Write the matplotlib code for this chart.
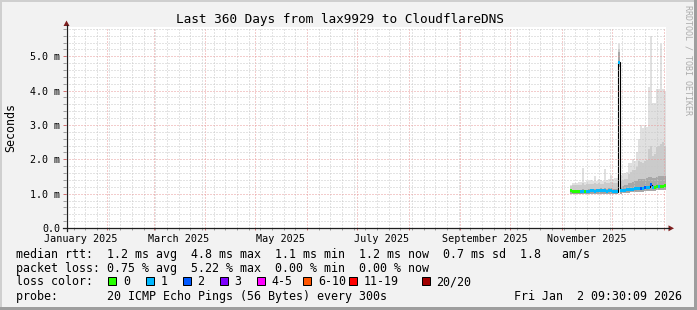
import matplotlib
matplotlib.use('Agg')
import matplotlib.pyplot as plt
import matplotlib.dates as mdates
from matplotlib.patches import Rectangle, Polygon
from matplotlib.ticker import FixedLocator, MultipleLocator
from matplotlib.transforms import ScaledTranslation
import numpy as np
import pandas as pd

plt.rcParams['font.family'] = ['DejaVu Sans Mono']

W, H, DPI = 697, 310, 100

# ---------------- text / categories ----------------
title = "Last 360 Days from lax9929 to CloudflareDNS"
y_label = "Seconds"
watermark = "RRDTOOL / TOBI OETIKER"
start_time = "2025-01-07 09:30:09"
end_time = "2026-01-02 09:30:09"
data_start = "2025-11-05 19:06:09"
step_minutes = 1728          # one column = 1.2 days

ytick_values = [0, 1, 2, 3, 4, 5]
ytick_labels = ["0.0", "1.0 m", "2.0 m", "3.0 m", "4.0 m", "5.0 m"]
xlabel_dates = ["2025-01-16", "2025-03-16", "2025-05-16", "2025-07-16", "2025-09-16", "2025-11-16"]
xlabel_texts = ["January 2025", "March 2025", "May 2025", "July 2025", "September 2025", "November 2025"]

legend_median = "median rtt:  1.2 ms avg  4.8 ms max  1.1 ms min  1.2 ms now  0.7 ms sd  1.8   am/s"
legend_loss = "packet loss: 0.75 % avg  5.22 % max  0.00 % min  0.00 % now"
legend_color = "loss color:"
legend_probe = "probe:       20 ICMP Echo Pings (56 Bytes) every 300s"
legend_date = "Fri Jan  2 09:30:09 2026"

loss_labels = ["0", "1", "2", "3", "4-5", "6-10", "11-19", "20/20"]
loss_colors = ["#26ff00", "#00b8ff", "#0059ff", "#7e00ff", "#ff00ff", "#ff5500", "#ff0000", "#a10000"]
loss_upper = [0, 1, 2, 3, 5, 10, 19, 20]

# ---------------- data (ms) ----------------
median = [1.08, 1.06, 1.05, 1.05, 1.06, 1.06, 1.07, 1.07, 1.06, 1.07, 1.08, 1.08,
          1.07, 1.08, 1.08, 1.09, 1.08, 1.08, 1.07, 1.08, 1.08, 1.07, 1.06, 1.06,
          4.82, 1.08, 1.10, 1.10, 1.11, 1.12, 1.13, 1.13, 1.14, 1.15, 1.15, 1.16,
          1.16, 1.17, 1.17, 1.18, 1.26, 1.19, 1.19, 1.20, 1.20, 1.21, 1.22, 1.23]
loss = [0, 0, 0, 0, 0, 1, 1, 0, 1, 1, 1, 1,
        1, 1, 1, 1, 1, 1, 1, 1, 1, 1, 1, 1,
        1, 1, 1, 1, 1, 1, 1, 1, 1, 1, 1, 2,
        1, 2, 1, 1, 2, 1, 0, 0, 1, 0, 0, 0]
smoke_lo = [0.99, 0.98, 0.98, 0.98, 0.98, 0.99, 0.99, 0.99, 0.98, 0.99, 0.99, 0.99,
            0.99, 0.99, 0.99, 1.00, 0.99, 0.99, 0.99, 0.99, 0.99, 0.99, 0.98, 0.98,
            4.70, 1.00, 1.01, 1.01, 1.02, 1.03, 1.04, 1.04, 1.05, 1.05, 1.06, 1.06,
            1.06, 1.07, 1.07, 1.08, 1.09, 1.09, 1.09, 1.10, 1.10, 1.11, 1.12, 1.12]
smoke_q1 = [1.12, 1.11, 1.10, 1.11, 1.11, 1.12, 1.13, 1.12, 1.12, 1.13, 1.14, 1.14,
            1.13, 1.14, 1.14, 1.15, 1.14, 1.15, 1.14, 1.15, 1.15, 1.14, 1.13, 1.13,
            5.12, 1.20, 1.22, 1.24, 1.26, 1.30, 1.32, 1.34, 1.36, 1.38, 1.42, 1.43,
            1.44, 1.44, 1.46, 1.48, 1.48, 1.46, 1.46, 1.48, 1.50, 1.50, 1.52, 1.50]
smoke_q2 = [1.22, 1.24, 1.25, 1.24, 1.25, 1.26, 1.30, 1.26, 1.27, 1.28, 1.29, 1.28,
            1.31, 1.28, 1.30, 1.29, 1.29, 1.34, 1.30, 1.30, 1.33, 1.31, 1.32, 1.32,
            5.22, 1.36, 1.40, 1.42, 1.44, 1.58, 1.62, 1.70, 1.68, 1.78, 1.95, 1.92,
            1.88, 1.94, 1.98, 2.30, 2.40, 2.10, 2.15, 2.35, 2.40, 2.45, 2.50, 2.40]
smoke_max = [1.25, 1.30, 1.32, 1.31, 1.33, 1.35, 1.76, 1.33, 1.36, 1.36, 1.40, 1.38,
             1.50, 1.38, 1.43, 1.40, 1.38, 1.72, 1.40, 1.42, 1.54, 1.42, 1.45, 1.45,
             5.35, 1.55, 1.60, 1.60, 1.62, 1.90, 1.88, 2.00, 1.95, 2.20, 2.60, 3.00,
             2.90, 3.00, 2.95, 4.10, 5.60, 3.65, 3.65, 4.05, 4.06, 5.35, 4.06, 4.00]

# ---------------- figure ----------------
fig = plt.figure(figsize=(W / DPI, H / DPI), dpi=DPI, facecolor='#f2f2f2')
ax = fig.add_axes([66 / W, (H - 228) / H, 600 / W, 200.6 / H])
ax.set_facecolor('white')
for s in ax.spines.values():
    s.set_visible(False)

t0 = mdates.date2num(pd.Timestamp(start_time).to_pydatetime())
t1 = mdates.date2num(pd.Timestamp(end_time).to_pydatetime())
ax.set_xlim(t0, t1)
ax.set_ylim(0, 5.84)

edges = mdates.date2num(pd.date_range(data_start, periods=len(median) + 1,
                                      freq=f'{step_minutes}min').to_pydatetime())
lo = np.array(smoke_lo); q1 = np.array(smoke_q1); q2 = np.array(smoke_q2); mx = np.array(smoke_max)
med = np.array(median)

ax.stairs(q1, edges, baseline=lo, fill=True, color='#a8a8a8', lw=0, zorder=1)
ax.stairs(q2, edges, baseline=q1, fill=True, color='#cbcbcb', lw=0, zorder=1)
ax.stairs(mx, edges, baseline=q2, fill=True, color='#e0e0e0', lw=0, zorder=1)
ax.stairs(med, edges, baseline=None, color='black', lw=0.8, zorder=2)


def loss_color(n):
    for up, c in zip(loss_upper, loss_colors):
        if n <= up:
            return c
    return loss_colors[-1]


ax.bar(edges[:-1], 0.09, bottom=med - 0.045, width=np.diff(edges), align='edge',
       color=[loss_color(n) for n in loss], linewidth=0, zorder=3)

# grid
ax.xaxis.set_major_locator(mdates.MonthLocator(bymonthday=1))
ax.xaxis.set_minor_locator(mdates.WeekdayLocator(byweekday=mdates.SU))
ax.yaxis.set_major_locator(FixedLocator(ytick_values))
ax.yaxis.set_minor_locator(MultipleLocator(0.2))
ax.set_axisbelow(False)
ax.grid(True, which='minor', color='#c8c8c8', linestyle=(0, (1, 2)), linewidth=0.72)
ax.grid(True, which='major', color='#e89a9a', linestyle=(0, (1, 2)), linewidth=0.72)
ax.tick_params(axis='x', which='both', labelbottom=False, direction='out', length=1.5, width=0.72)
ax.tick_params(axis='x', which='major', color='#d07070')
ax.tick_params(axis='x', which='minor', color='#a0a0a0')
ax.tick_params(axis='y', which='both', direction='out', length=2.2, width=0.72, pad=2.2,
               labelsize=7.2)
ax.tick_params(axis='y', which='major', color='#d07070')
ax.tick_params(axis='y', which='minor', color='#a0a0a0')
ax.set_yticks(ytick_values, ytick_labels)

# x labels (centred mid-month like rrdtool)
off = ScaledTranslation(0, -13.5 / DPI, fig.dpi_scale_trans)
for d, s in zip(xlabel_dates, xlabel_texts):
    ax.text(mdates.date2num(pd.Timestamp(d).to_pydatetime()), 0, s, fontsize=7.3,
            ha='center', va='baseline', transform=ax.get_xaxis_transform() + off,
            clip_on=False)

# ---------------- overlay in pixel coordinates ----------------
ov = fig.add_axes([0, 0, 1, 1])
ov.set_xlim(0, W)
ov.set_ylim(H, 0)
ov.axis('off')
ov.patch.set_alpha(0)

ov.add_patch(Rectangle((0, 0), 2, H, color='#cfcfcf', lw=0))
ov.add_patch(Rectangle((0, 0), W, 2, color='#cfcfcf', lw=0))
ov.add_patch(Rectangle((W - 3, 0), 3, H, color='#9e9e9e', lw=0))
ov.add_patch(Rectangle((0, H - 3), W, 3, color='#9e9e9e', lw=0))

axis_col = '#1f1f1f'
arrow_col = '#7f1f1f'
ov.plot([66.5, 66.5], [231, 25], color=axis_col, lw=0.9)
ov.plot([63, 669], [228.3, 228.3], color=axis_col, lw=0.9)
ov.add_patch(Polygon([[66.5, 20.5], [63.5, 26], [69.5, 26]], closed=True, color=arrow_col, lw=0))
ov.add_patch(Polygon([[674, 228.3], [668.5, 225.3], [668.5, 231.3]], closed=True, color=arrow_col, lw=0))

ov.text(176, 22.5, title, fontsize=9.15, ha='left', va='baseline')
ov.text(10.8, 127.5, y_label, fontsize=8.4, rotation=90, ha='center', va='center')
ov.text(688, 60, watermark, fontsize=6.0, rotation=270, ha='center', va='center', color='#acacac')

fs = 8.42
ov.text(16, 257.6, legend_median, fontsize=fs, ha='left', va='baseline')
ov.text(16, 271.6, legend_loss, fontsize=fs, ha='left', va='baseline')
ov.text(16, 285.4, legend_color, fontsize=fs, ha='left', va='baseline')
ov.text(16, 299.6, legend_probe, fontsize=fs, ha='left', va='baseline')
ov.text(681.5, 299.6, legend_date, fontsize=fs, ha='right', va='baseline')

box_x = [108.3, 146, 182.7, 220, 256.7, 303.3, 349.3, 421.7]
text_x = [123.5, 160.5, 197, 234.5, 271.5, 318, 364, 436.5]
for bx, tx, lab, col in zip(box_x, text_x, loss_labels, loss_colors):
    ov.add_patch(Rectangle((bx, 277), 8, 8, facecolor=col, edgecolor='black', lw=0.72))
    ov.text(tx, 285.4, lab, fontsize=fs, ha='left', va='baseline')

fig.savefig('out.png', dpi=DPI, facecolor=fig.get_facecolor())
